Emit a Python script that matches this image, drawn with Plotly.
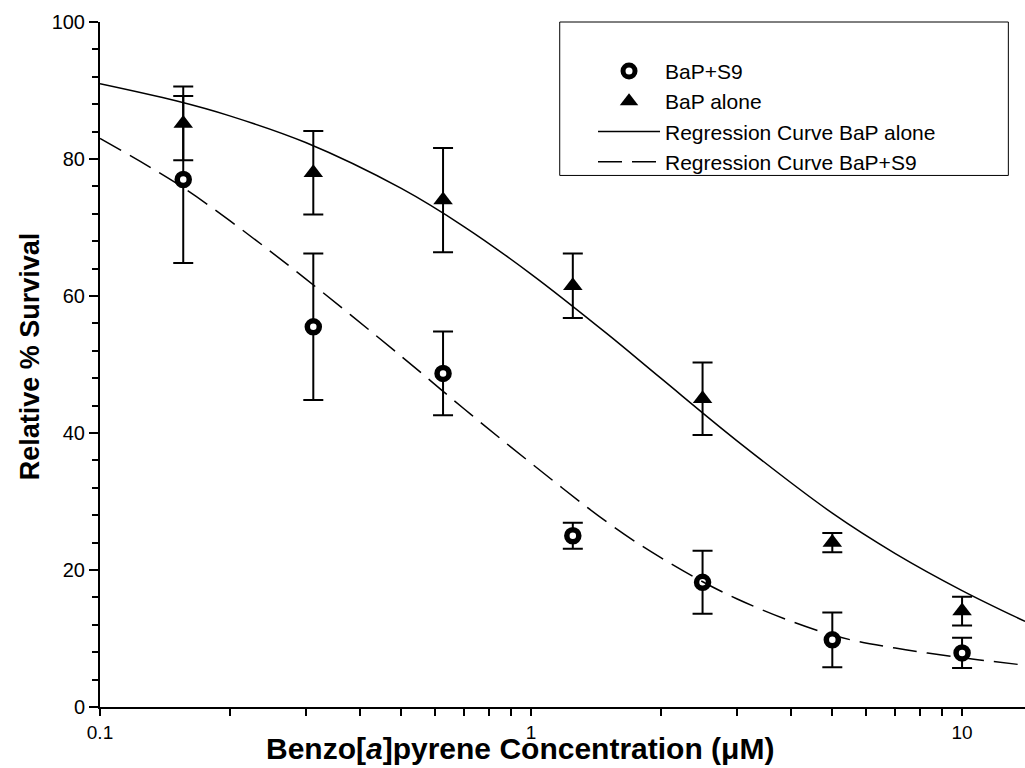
import plotly.graph_objects as go

# Data
conc = [0.156, 0.3125, 0.625, 1.25, 2.5, 5, 10]
alone_mean = [85.2, 78.0, 74.0, 61.5, 45.0, 24.0, 14.0]
alone_err = [5.4, 6.1, 7.6, 4.7, 5.3, 1.4, 2.1]
s9_mean = [77.0, 55.5, 48.7, 25.0, 18.2, 9.8, 7.9]
s9_err = [12.2, 10.7, 6.1, 1.9, 4.6, 4.0, 2.2]

# Regression curves
curve_x = [0.1, 0.15, 0.2, 0.3, 0.5, 0.7, 1.0, 1.5, 2.0, 3.0, 5.0, 7.0, 10.0, 14.0]
curve_alone = [91.0, 88.5, 86.3, 82.4, 75.7, 70.1, 63.2, 54.5, 48.0, 38.9, 28.3, 22.4, 17.0, 12.5]
curve_s9 = [83.0, 76.5, 71.0, 62.5, 51.2, 43.5, 35.6, 27.0, 21.8, 15.8, 10.5, 8.6, 7.2, 6.1]

x_ticks = [0.1, 1, 10]
x_tick_text = ["0.1", "1", "10"]
x_minor = [0.2, 0.3, 0.4, 0.5, 0.6, 0.7, 0.8, 0.9, 2, 3, 4, 5, 6, 7, 8, 9]
y_ticks = [0, 20, 40, 60, 80, 100]

FONT = "Arial, Liberation Sans, sans-serif"

fig = go.Figure()
fig.add_trace(go.Scatter(
    x=conc, y=s9_mean, mode="markers", name="BaP+S9",
    marker=dict(symbol="circle", size=12, color="white", line=dict(color="black", width=5.5)),
    error_y=dict(type="data", array=s9_err, color="black", thickness=2, width=10),
))
fig.add_trace(go.Scatter(
    x=conc, y=alone_mean, mode="markers", name="BaP alone",
    marker=dict(symbol="triangle-up", size=17, color="black"),
    error_y=dict(type="data", array=alone_err, color="black", thickness=2, width=10),
))
fig.add_trace(go.Scatter(
    x=curve_x, y=curve_alone, mode="lines", name="Regression Curve BaP alone",
    line=dict(color="black", width=1.5, shape="spline"),
))
fig.add_trace(go.Scatter(
    x=curve_x, y=curve_s9, mode="lines", name="Regression Curve BaP+S9",
    line=dict(color="black", width=1.5, shape="spline", dash="24px,10px"),
))

fig.update_layout(
    width=1025, height=768,
    margin=dict(l=100, r=0, t=22, b=61),
    paper_bgcolor="white", plot_bgcolor="white",
    font=dict(family=FONT, size=20, color="black"),
    showlegend=True,
    legend=dict(x=0.533, y=0.958, xanchor="left", yanchor="top",
                bgcolor="rgba(0,0,0,0)", borderwidth=0,
                font=dict(family=FONT, size=21), itemwidth=62, tracegroupgap=0),
    shapes=[dict(type="rect", xref="paper", yref="paper",
                 x0=0.497, x1=0.982, y0=0.776, y1=1.0,
                 line=dict(color="black", width=1), fillcolor="rgba(0,0,0,0)")],
    annotations=[
        dict(text="<b>Benzo[<i>a</i>]pyrene Concentration (μM)</b>", xref="paper", yref="paper",
             x=0.454, y=-0.0871, xanchor="center", yanchor="bottom", showarrow=False,
             font=dict(family=FONT, size=30)),
        dict(text="<b>Relative % Survival</b>", xref="paper", yref="paper",
             x=-0.0757, y=0.512, xanchor="center", yanchor="middle", showarrow=False,
             textangle=-90, font=dict(family=FONT, size=27)),
    ],
)
fig.update_xaxes(
    type="log", range=[-1, 1.146],
    tickvals=x_ticks, ticktext=x_tick_text,
    ticks="outside", ticklen=7, tickwidth=2, tickcolor="black",
    minor=dict(tickvals=x_minor, ticks="outside", ticklen=7, tickwidth=1.5, tickcolor="black"),
    showline=True, linecolor="black", linewidth=2, showgrid=False, zeroline=False,
    tickfont=dict(size=19),
)
fig.update_yaxes(
    range=[0, 100], tickvals=y_ticks,
    ticks="outside", ticklen=9, tickwidth=2, tickcolor="black",
    minor=dict(dtick=4, ticks="outside", ticklen=6, tickwidth=1.5, tickcolor="black"),
    showline=True, linecolor="black", linewidth=2, showgrid=False, zeroline=False,
    tickfont=dict(size=20),
)

fig.write_html("out.html")
